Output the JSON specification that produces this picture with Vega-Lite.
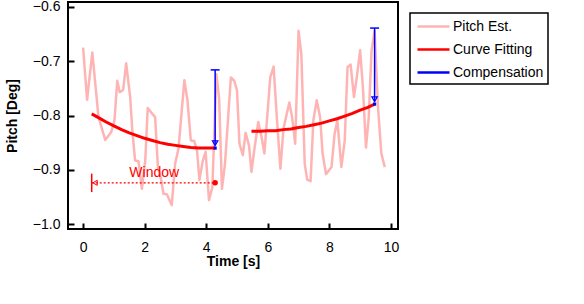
{
  "$schema": "https://vega.github.io/schema/vega-lite/v6.json",
  "autosize": {"type": "none"},
  "padding": {"left": 68, "top": 2, "right": 186, "bottom": 75},
  "width": 330,
  "height": 227,
  "background": "white",
  "config": {
    "font": "Liberation Sans",
    "view": {"stroke": "black", "strokeWidth": 2},
    "axis": {
      "domain": false, "offset": -6,
      "tickColor": "black", "tickWidth": 2, "tickSize": 6,
      "labelColor": "black", "labelFontSize": 14, "labelFont": "Liberation Sans",
      "titleColor": "black", "titleFontSize": 14, "titleFont": "Liberation Sans", "titleFontWeight": "bold",
      "grid": false
    }
  },
  "datasets": {
    "pitch": [
      {"t":0.00,"v":-0.675},{"t":0.13,"v":-0.771},{"t":0.30,"v":-0.684},{"t":0.50,"v":-0.803},
      {"t":0.72,"v":-0.845},{"t":0.91,"v":-0.831},{"t":1.02,"v":-0.809},{"t":1.11,"v":-0.736},
      {"t":1.19,"v":-0.757},{"t":1.30,"v":-0.753},{"t":1.40,"v":-0.704},{"t":1.53,"v":-0.766},
      {"t":1.60,"v":-0.828},{"t":1.69,"v":-0.883},{"t":1.80,"v":-0.884},{"t":1.91,"v":-0.935},
      {"t":2.02,"v":-0.883},{"t":2.10,"v":-0.786},{"t":2.25,"v":-0.797},{"t":2.34,"v":-0.803},
      {"t":2.43,"v":-0.895},{"t":2.54,"v":-0.919},{"t":2.61,"v":-0.944},{"t":2.72,"v":-0.945},
      {"t":2.88,"v":-0.965},{"t":2.99,"v":-0.889},{"t":3.10,"v":-0.861},{"t":3.29,"v":-0.735},
      {"t":3.39,"v":-0.772},{"t":3.50,"v":-0.846},{"t":3.61,"v":-0.847},{"t":3.70,"v":-0.864},
      {"t":3.78,"v":-0.919},{"t":3.89,"v":-0.883},{"t":3.98,"v":-0.867},{"t":4.09,"v":-0.956},
      {"t":4.20,"v":-0.932},{"t":4.33,"v":-0.724},{"t":4.42,"v":-0.769},{"t":4.51,"v":-0.935},
      {"t":4.61,"v":-0.889},{"t":4.80,"v":-0.730},{"t":4.91,"v":-0.736},{"t":5.00,"v":-0.754},
      {"t":5.08,"v":-0.852},{"t":5.19,"v":-0.873},{"t":5.28,"v":-0.832},{"t":5.39,"v":-0.855},
      {"t":5.47,"v":-0.904},{"t":5.56,"v":-0.864},{"t":5.69,"v":-0.812},{"t":5.80,"v":-0.840},
      {"t":5.89,"v":-0.870},{"t":6.08,"v":-0.730},{"t":6.19,"v":-0.710},{"t":6.30,"v":-0.809},
      {"t":6.41,"v":-0.898},{"t":6.51,"v":-0.824},{"t":6.64,"v":-0.791},{"t":6.70,"v":-0.776},
      {"t":6.79,"v":-0.803},{"t":6.89,"v":-0.852},{"t":7.00,"v":-0.644},{"t":7.09,"v":-0.687},
      {"t":7.20,"v":-0.889},{"t":7.28,"v":-0.918},{"t":7.39,"v":-0.921},{"t":7.48,"v":-0.809},
      {"t":7.59,"v":-0.772},{"t":7.70,"v":-0.803},{"t":7.78,"v":-0.870},{"t":7.89,"v":-0.908},
      {"t":8.07,"v":-0.895},{"t":8.17,"v":-0.834},{"t":8.26,"v":-0.809},{"t":8.39,"v":-0.895},
      {"t":8.50,"v":-0.846},{"t":8.59,"v":-0.711},{"t":8.69,"v":-0.706},{"t":8.80,"v":-0.766},
      {"t":8.89,"v":-0.730},{"t":9.00,"v":-0.680},{"t":9.09,"v":-0.748},{"t":9.19,"v":-0.859},
      {"t":9.28,"v":-0.803},{"t":9.37,"v":-0.681},{"t":9.47,"v":-0.644},{"t":9.58,"v":-0.785},
      {"t":9.69,"v":-0.870},{"t":9.80,"v":-0.895}
    ],
    "fit": [
      {"seg":1,"t":0.28,"v":-0.797},{"seg":1,"t":0.5,"v":-0.804},{"seg":1,"t":0.75,"v":-0.812},
      {"seg":1,"t":1.0,"v":-0.819},{"seg":1,"t":1.25,"v":-0.826},{"seg":1,"t":1.5,"v":-0.832},
      {"seg":1,"t":1.75,"v":-0.837},{"seg":1,"t":2.0,"v":-0.842},{"seg":1,"t":2.25,"v":-0.846},
      {"seg":1,"t":2.5,"v":-0.850},{"seg":1,"t":2.75,"v":-0.853},{"seg":1,"t":3.0,"v":-0.855},
      {"seg":1,"t":3.25,"v":-0.857},{"seg":1,"t":3.5,"v":-0.859},{"seg":1,"t":3.75,"v":-0.860},
      {"seg":1,"t":4.0,"v":-0.860},{"seg":1,"t":4.29,"v":-0.860},
      {"seg":2,"t":5.47,"v":-0.829},{"seg":2,"t":5.75,"v":-0.829},{"seg":2,"t":6.0,"v":-0.828},
      {"seg":2,"t":6.25,"v":-0.828},{"seg":2,"t":6.5,"v":-0.826},{"seg":2,"t":6.75,"v":-0.825},
      {"seg":2,"t":7.0,"v":-0.822},{"seg":2,"t":7.25,"v":-0.820},{"seg":2,"t":7.5,"v":-0.817},
      {"seg":2,"t":7.75,"v":-0.814},{"seg":2,"t":8.0,"v":-0.810},{"seg":2,"t":8.25,"v":-0.806},
      {"seg":2,"t":8.5,"v":-0.801},{"seg":2,"t":8.75,"v":-0.796},{"seg":2,"t":9.0,"v":-0.790},
      {"seg":2,"t":9.25,"v":-0.785},{"seg":2,"t":9.47,"v":-0.779}
    ],
    "comp": [
      {"t":4.29,"top":-0.716,"bottom":-0.855,"arrow":-0.851,"end":-0.860},
      {"t":9.47,"top":-0.639,"bottom":-0.774,"arrow":-0.770,"end":-0.779}
    ],
    "window": [
      {"t0":0.28,"t1":4.29,"v":-0.924,"tickTop":-0.907,"tickBottom":-0.941,"arrowT":0.39,"labelT":2.31,"labelV":-0.906,"label":"Window"}
    ]
  },
  "layer": [
    {
      "data": {"name": "pitch"},
      "mark": {"type": "line", "strokeWidth": 2.5, "strokeJoin": "round"},
      "encoding": {
        "x": {"field": "t", "type": "quantitative", "scale": {"domain": [-0.49, 10.23], "nice": false, "zero": false},
              "axis": {"values": [0,2,4,6,8,10], "title": "Time [s]", "labelPadding": 11, "titlePadding": 0}},
        "y": {"field": "v", "type": "quantitative", "scale": {"domain": [-1.009, -0.591], "nice": false, "zero": false},
              "axis": {"values": [-1.0,-0.9,-0.8,-0.7,-0.6], "format": ".1f", "title": "Pitch [Deg]", "labelPadding": 8, "titlePadding": 13}},
        "color": {"datum": "Pitch Est.", "type": "nominal",
          "scale": {"domain": ["Pitch Est.", "Curve Fitting", "Compensation"], "range": ["#ffb4b4", "#ff0000", "#0000ff"]},
          "legend": {"orient": "none", "legendX": 342, "legendY": 11, "title": null,
            "strokeColor": "black", "padding": 4, "fillColor": "white",
            "symbolType": "M-2,0H2", "symbolSize": 256, "symbolStrokeWidth": 2.5, "symbolOffset": 10,
            "labelFontSize": 14, "labelFont": "Liberation Sans", "labelColor": "black", "labelOffset": 10, "rowPadding": 6,
            "encode": {"legend": {"update": {"strokeWidth": {"value": 1.5}}}}}}
      }
    },
    {
      "data": {"name": "fit"},
      "mark": {"type": "line", "strokeWidth": 3},
      "encoding": {
        "x": {"field": "t", "type": "quantitative"},
        "y": {"field": "v", "type": "quantitative"},
        "detail": {"field": "seg", "type": "nominal"},
        "color": {"datum": "Curve Fitting", "type": "nominal"}
      }
    },
    {
      "data": {"name": "comp"},
      "mark": {"type": "rule", "strokeWidth": 1.5},
      "encoding": {
        "x": {"field": "t", "type": "quantitative"},
        "y": {"field": "top", "type": "quantitative"},
        "y2": {"field": "bottom"},
        "color": {"datum": "Compensation", "type": "nominal"}
      }
    },
    {
      "data": {"name": "comp"},
      "mark": {"type": "point", "shape": "M-1,0H1", "size": 81, "stroke": "#0000ff", "strokeWidth": 1.5, "filled": false, "opacity": 1},
      "encoding": {
        "x": {"field": "t", "type": "quantitative"},
        "y": {"field": "top", "type": "quantitative"}
      }
    },
    {
      "data": {"name": "comp"},
      "mark": {"type": "point", "shape": "triangle-down", "size": 30, "stroke": "#0000ff", "strokeWidth": 1.2, "filled": false, "opacity": 1},
      "encoding": {
        "x": {"field": "t", "type": "quantitative"},
        "y": {"field": "arrow", "type": "quantitative"}
      }
    },
    {
      "data": {"name": "comp"},
      "mark": {"type": "square", "size": 10, "color": "#0000ff", "opacity": 1},
      "encoding": {
        "x": {"field": "t", "type": "quantitative"},
        "y": {"field": "end", "type": "quantitative"}
      }
    },
    {
      "data": {"name": "window"},
      "mark": {"type": "rule", "color": "#ff0000", "strokeWidth": 1.2, "strokeDash": [2, 2]},
      "encoding": {
        "x": {"field": "t0", "type": "quantitative"},
        "x2": {"field": "t1"},
        "y": {"field": "v", "type": "quantitative"}
      }
    },
    {
      "data": {"name": "window"},
      "mark": {"type": "rule", "color": "#ff0000", "strokeWidth": 1.5},
      "encoding": {
        "x": {"field": "t0", "type": "quantitative"},
        "y": {"field": "tickTop", "type": "quantitative"},
        "y2": {"field": "tickBottom"}
      }
    },
    {
      "data": {"name": "window"},
      "mark": {"type": "point", "shape": "triangle-left", "size": 25, "stroke": "#ff0000", "strokeWidth": 1, "filled": false, "opacity": 1},
      "encoding": {
        "x": {"field": "arrowT", "type": "quantitative"},
        "y": {"field": "v", "type": "quantitative"}
      }
    },
    {
      "data": {"name": "window"},
      "mark": {"type": "circle", "size": 30, "color": "#ff0000", "opacity": 1},
      "encoding": {
        "x": {"field": "t1", "type": "quantitative"},
        "y": {"field": "v", "type": "quantitative"}
      }
    },
    {
      "data": {"name": "window"},
      "mark": {"type": "text", "color": "#ff0000", "fontSize": 14, "font": "Liberation Sans", "align": "center", "baseline": "middle"},
      "encoding": {
        "x": {"field": "labelT", "type": "quantitative"},
        "y": {"field": "labelV", "type": "quantitative"},
        "text": {"field": "label"}
      }
    }
  ]
}
